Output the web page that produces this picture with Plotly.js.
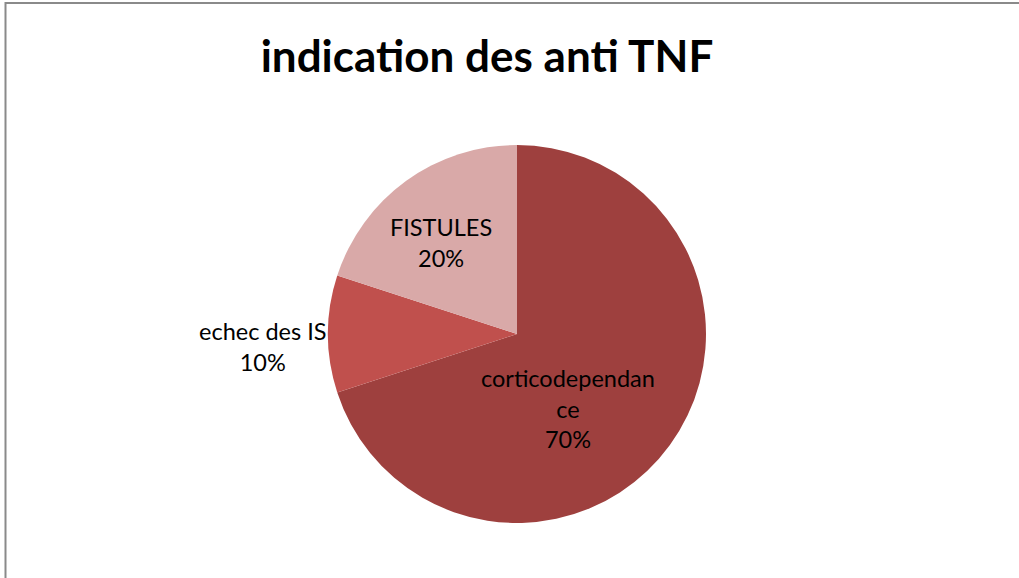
<!DOCTYPE html>
<html>
<head>
<meta charset="utf-8">
<script src="https://cdn.plot.ly/plotly-3.0.1.min.js"></script>
<style>html,body{margin:0;padding:0;background:#fff;}#chart{width:1019px;height:578px;}</style>
</head>
<body>
<div id="chart"></div>
<script>
const categories = ["corticodependance", "echec des IS", "FISTULES"];
const displayLabels = ["corticodependan<br>ce", "echec des IS", "FISTULES"];
const values = [70, 10, 20];
const colors = ["#9E403E", "#C0504D", "#D9A9A8"];
const chartTitle = "indication des anti TNF";

const W = 1019, H = 578;
const cx = 517, cy = 334, r = 189;
// label block centres (pixels), one per category
const labelPos = [[568, 408], [262, 346], [441, 242]];

const total = values.reduce((a, b) => a + b, 0);

const trace = {
  type: "pie",
  labels: categories,
  values: values,
  sort: false,
  direction: "clockwise",
  rotation: 0,
  marker: {colors: colors, line: {width: 0}},
  textinfo: "none",
  hoverinfo: "label+percent",
  showlegend: false,
  domain: {x: [(cx - r) / W, (cx + r) / W], y: [(H - cy - r) / H, (H - cy + r) / H]}
};

const annotations = categories.map((c, i) => ({
  xref: "paper", yref: "paper",
  x: labelPos[i][0] / W, y: 1 - labelPos[i][1] / H,
  xanchor: "center", yanchor: "middle",
  showarrow: false,
  text: displayLabels[i] + "<br>" + Math.round(values[i] / total * 100) + "%",
  font: {family: "Lato, 'Open Sans', sans-serif", size: 23.5, color: "#000"}
}));

const layout = {
  width: W, height: H,
  margin: {l: 0, r: 0, t: 0, b: 0},
  paper_bgcolor: "#fff",
  title: {
    text: "<b>" + chartTitle + "</b>",
    font: {family: "Lato, 'Open Sans', sans-serif", size: 44, color: "#000"},
    x: 487 / W, xanchor: "center",
    y: 1 - 57 / H, yanchor: "middle"
  },
  annotations: annotations,
  shapes: [{
    type: "rect", xref: "paper", yref: "paper",
    x0: 5.5 / W, x1: 1.02, y0: -0.02, y1: 1 - 3 / H,
    line: {color: "#8a8a8a", width: 2}, fillcolor: "rgba(0,0,0,0)"
  }]
};

Plotly.newPlot("chart", [trace], layout, {displayModeBar: false, staticPlot: true});
</script>
</body>
</html>
